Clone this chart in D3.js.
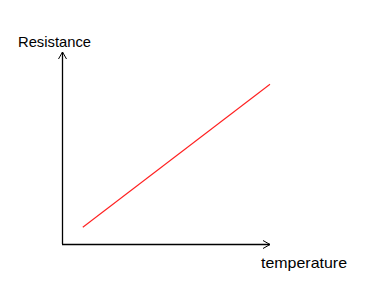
<!DOCTYPE html>
<html><head><meta charset="utf-8">
<script src="https://cdn.jsdelivr.net/npm/d3@7"></script>
<style>body{margin:0;background:#fff}svg{display:block}</style>
</head><body>
<svg id="c" width="365" height="286"></svg>
<script>
const temperature = [10, 100];
const resistance = [8.7, 83.2];
const xLabel = "temperature";
const yLabel = "Resistance";

const svg = d3.select("#c");
const x = d3.scaleLinear().domain([0, 100]).range([62, 270]);
const y = d3.scaleLinear().domain([0, 100]).range([244, 52]);

const defs = svg.append("defs");
defs.append("marker").attr("id","arr").attr("viewBox","-8 -5 9 10")
  .attr("refX",0).attr("refY",0).attr("markerWidth",9).attr("markerHeight",10)
  .attr("markerUnits","userSpaceOnUse").attr("orient","auto")
  .append("path").attr("d","M-7,-4L0,0L-7,4").attr("fill","none").attr("stroke","#000").attr("stroke-width",1);

svg.append("line").attr("x1",x(0)+0.5).attr("x2",x(0)+0.5).attr("y1",y(0)).attr("y2",y(100))
  .attr("stroke","#000").attr("stroke-width",1.3).attr("marker-end","url(#arr)");
svg.append("line").attr("x1",x(0)).attr("x2",x(100)).attr("y1",y(0)+0.5).attr("y2",y(0)+0.5)
  .attr("stroke","#000").attr("stroke-width",1.3).attr("marker-end","url(#arr)");

const pts = temperature.map((t,i)=>[t,resistance[i]]);
svg.append("path").datum(pts)
  .attr("d", d3.line().x(d=>x(d[0])).y(d=>y(d[1])))
  .attr("fill","none").attr("stroke","#ff2020").attr("stroke-width",1.1);

svg.append("text").attr("x",18).attr("y",47).text(yLabel)
  .attr("textLength",73).attr("lengthAdjust","spacingAndGlyphs")
  .attr("font-family","Liberation Sans, Arial, sans-serif").attr("font-size",14.5).attr("fill","#000");
svg.append("text").attr("x",261).attr("y",268).text(xLabel)
  .attr("textLength",86).attr("lengthAdjust","spacingAndGlyphs")
  .attr("font-family","Liberation Sans, Arial, sans-serif").attr("font-size",15).attr("fill","#000");
</script>
</body></html>
